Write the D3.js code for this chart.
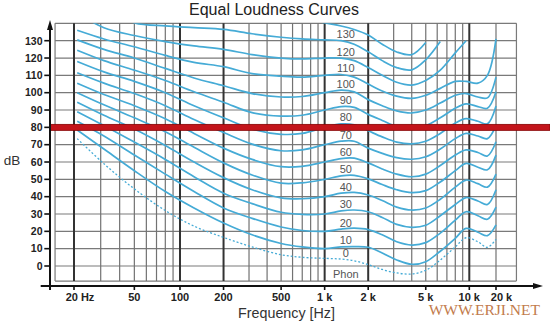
<!DOCTYPE html>
<html><head><meta charset="utf-8">
<script src="https://cdn.jsdelivr.net/npm/d3@7"></script>
<style>body{margin:0;background:#fff}svg{display:block}</style>
</head><body>
<svg id="chart" width="550" height="324"></svg>
<script>
// ---- data ----
const freqs = [21, 31.5, 50, 80, 125, 200, 315, 500, 700, 1000, 1300, 1600, 2000, 2500, 3150, 4000, 5000, 6300, 8000, 9500, 12500, 16000, 20000];
const threshold = [73.5, 59, 44.5, 32, 23, 16.5, 11, 6.5, 5, 4.4, 4, 3, 0.8, -2, -4, -4.6, -2.5, 3.5, 11, 16.3, 14, 10.8, 15.4];
const phon10  = [78.5, 67.5, 55, 43, 33.5, 24.8, 18, 13, 11, 10, 11, 11.2, 10.8, 7.5, 3.5, 1.0, 2.5, 8.5, 16, 21.7, 19.5, 17.5, 23.7];
const phon20  = [83.5, 75, 64, 53, 43, 33.5, 27.5, 22.5, 20.5, 20, 21.3, 21.8, 21, 18, 14, 12.1, 13.5, 19, 26.5, 31.3, 29, 27, 34];
const phon30  = [89, 81, 71.5, 61.5, 51.5, 42, 36, 31, 29.8, 30, 31.8, 32.3, 31.3, 28, 24, 22.3, 23.5, 29, 35.5, 39.5, 37.5, 35.5, 44];
const phon40  = [94.5, 87, 79, 69.5, 60, 51, 44, 39.3, 38.8, 40, 42, 42.5, 41, 37.8, 34, 32.3, 33.5, 38.5, 45.5, 49.6, 47.5, 45.5, 53];
const phon50  = [100, 93, 85.5, 77.5, 68.5, 59.5, 52.5, 47.8, 48, 50, 52, 52.3, 50.3, 47, 44, 42.3, 43.5, 48.5, 55, 59.2, 57, 55.5, 64];
const phon60  = [105.5, 99, 92.5, 85, 76.5, 68, 61.5, 57.3, 57.5, 60, 62, 62.2, 59.5, 56, 53, 51.5, 53, 58, 64, 67, 65.5, 63.5, 71.7];
const phon70  = [111.5, 105.5, 99.5, 92.5, 84.5, 77, 70.3, 66.5, 67, 70, 72, 72, 68, 65, 62.5, 61.6, 63, 67.5, 73.5, 76.5, 75, 73.5, 81];
const phon80  = [118, 112, 106.5, 100, 92.5, 85.5, 79, 76, 76.5, 80, 82, 81.5, 78, 74.5, 71.5, 70.5, 72, 76.5, 82.5, 85, 83.5, 82, 92.3];
const phon90  = [124.5, 118.5, 113, 107, 100.5, 94.5, 88.5, 86.5, 87, 90, 92, 91.5, 87.5, 84, 80.5, 79.5, 81, 85.5, 91, 93.5, 92, 91, 100.5];
const phon100 = [130.5, 125, 120, 114, 108.5, 104, 99.5, 97.5, 97.8, 100, 101.5, 100.5, 96, 92.5, 89.5, 88.3, 90, 94, 98.5, 99.5, 97.5, 97, 109];
const phon110 = [136, 131, 126.5, 121.5, 117.5, 115, 111, 109.5, 109, 110, 110.5, 109, 105, 101, 98, 96.7, 98.5, 102.5, 106.5, 106.5, 105.5, 110, 131];
const phon120 = [146, 137.5, 133, 129.5, 127, 125, 122, 120, 119.5, 120, 120, 118.5, 114.5, 110, 106, 104.4, 107, 113, 123, 130, null, null, null];
const phon130 = [null, 148, 140.3, 138.5, 137.5, 136.5, 134, 132, 131, 130.5, 130, 128, 123.6, 118.5, 114.5, 113.2, 119, 129.5, null, null, null, null, null];
const phon140 = [null, null, null, null, null, null, null, null, 143, 140.3, 138.5, 136.5, 133.3, 128, 123.5, 122, 129, null, null, null, null, null, null];

const curveSeries = [phon10, phon20, phon30, phon40, phon50, phon60, phon70, phon80, phon90, phon100, phon110, phon120, phon130, phon140];
const curveNames  = ["10", "20", "30", "40", "50", "60", "70", "80", "90", "100", "110", "120", "130", ""];
const thresholdName = "0";
const unitName = "Phon";
const labelFreq = 1400;

const yTicks = [0, 10, 20, 30, 40, 50, 60, 70, 80, 90, 100, 110, 120, 130];
const yGrid = [-8.7, 0, 10, 20, 30, 40, 50, 60, 70, 80, 90, 100, 110, 120, 130, 140];
const xTickFreqs  = [20, 50, 100, 200, 500, 1000, 2000, 5000, 10000, 20000];
const xTickLabels = ["20 Hz", "50", "100", "200", "500", "1 k", "2 k", "5 k", "10 k", "20 k"];
const gridMajor = [20, 100, 200, 1000, 2000, 10000];
const gridMinor = [30, 40, 50, 60, 70, 80, 90, 300, 400, 500, 600, 700, 800, 900, 3000, 4000, 5000, 6000, 7000, 8000, 9000, 20000];
const frameFreq = [15, 34000];
const frameDb = [-8.7, 140];
const markerLevel = 80;

// ---- scales ----
const x = d3.scaleLog().domain([20, 100, 10000, 20000]).range([74, 180, 469.3, 496]);
const y = d3.scaleLinear().domain([0, 130]).range([266, 40.7]);

const svg = d3.select("#chart");
const fL = x(frameFreq[0]), fR = x(frameFreq[1]), fT = y(frameDb[1]), fB = y(frameDb[0]);

svg.append("defs").append("clipPath").attr("id", "plot")
  .append("rect").attr("x", fL).attr("y", fT).attr("width", fR - fL).attr("height", fB - fT);

// grid
const grid = svg.append("g");
grid.selectAll(".h").data(yGrid).join("line")
  .attr("x1", fL).attr("x2", fR).attr("y1", d => y(d)).attr("y2", d => y(d))
  .attr("stroke", "#7a7a7a").attr("stroke-width", 1.2);
grid.selectAll(".vmin").data(gridMinor).join("line")
  .attr("x1", d => x(d)).attr("x2", d => x(d)).attr("y1", fT).attr("y2", fB)
  .attr("stroke", "#727272").attr("stroke-width", 1.2);
grid.selectAll(".vmaj").data(gridMajor).join("line")
  .attr("x1", d => x(d)).attr("x2", d => x(d)).attr("y1", fT).attr("y2", fB)
  .attr("stroke", "#333").attr("stroke-width", 2);
grid.append("line").attr("x1", fL).attr("x2", fL).attr("y1", fT).attr("y2", fB).attr("stroke", "#7a7a7a").attr("stroke-width", 1.2);
grid.append("line").attr("x1", fR).attr("x2", fR).attr("y1", fT).attr("y2", fB).attr("stroke", "#7a7a7a").attr("stroke-width", 1.2);

// curves
const line = d3.line()
  .defined(d => d[1] != null)
  .x(d => x(d[0])).y(d => y(d[1]))
  .curve(d3.curveCatmullRom.alpha(0.5));
const cg = svg.append("g").attr("clip-path", "url(#plot)");
cg.selectAll(".c").data(curveSeries).join("path")
  .attr("d", s => line(freqs.map((f, i) => [f, s[i]])))
  .attr("fill", "none").attr("stroke", "#45abd6").attr("stroke-width", 1.7);
cg.append("path")
  .attr("d", line(freqs.map((f, i) => [f, threshold[i]])))
  .attr("fill", "none").attr("stroke", "#45abd6").attr("stroke-width", 1.3)
  .attr("stroke-dasharray", "2,2");

// phon labels
const li = freqs.indexOf(1300);
const lab = svg.append("g").attr("font-family", "Liberation Sans, Arial, sans-serif")
  .attr("font-size", 11).attr("fill", "#555").attr("text-anchor", "middle");
curveSeries.forEach((s, k) => {
  if (!curveNames[k]) return;
  lab.append("text").attr("x", x(labelFreq)).attr("y", y(s[li]) - 2.5).text(curveNames[k]);
});
lab.append("text").attr("x", x(labelFreq)).attr("y", y(threshold[li]) - 2.5).text(thresholdName);
lab.append("text").attr("x", x(labelFreq)).attr("y", y(threshold[li]) + 19).text(unitName);

// red marker line
svg.append("rect").attr("x", 50).attr("y", y(markerLevel) - 3).attr("width", 500).attr("height", 6)
  .attr("fill", "#c3141b").attr("stroke", "#850000").attr("stroke-width", 0.8);

// axes
const ax = svg.append("g");
ax.append("line").attr("x1", 50).attr("x2", 50).attr("y1", 290).attr("y2", 26).attr("stroke", "#111").attr("stroke-width", 2);
ax.append("path").attr("d", "M50,20 L47,30 L53,30 Z").attr("fill", "#111");
ax.append("line").attr("x1", 40.7).attr("x2", 537).attr("y1", 286).attr("y2", 286).attr("stroke", "#111").attr("stroke-width", 2);
ax.append("path").attr("d", "M543,286 L533,283 L533,289 Z").attr("fill", "#111");

ax.selectAll(".yt").data(yTicks).join("line")
  .attr("x1", 44.3).attr("x2", 50).attr("y1", d => y(d)).attr("y2", d => y(d))
  .attr("stroke", "#111").attr("stroke-width", 1.6);
ax.selectAll(".yl").data(yTicks).join("text")
  .attr("x", 42.5).attr("y", d => y(d) + 3.8).attr("text-anchor", "end")
  .attr("font-family", "Liberation Sans, Arial, sans-serif").attr("font-weight", "bold")
  .attr("font-size", 10.5).attr("fill", "#222").text(d => d);

ax.selectAll(".xt").data(xTickFreqs).join("line")
  .attr("x1", d => x(d)).attr("x2", d => x(d)).attr("y1", 286).attr("y2", 290)
  .attr("stroke", "#111").attr("stroke-width", 1.6);
ax.selectAll(".xl").data(xTickFreqs).join("text")
  .attr("x", (d, i) => x(d) + (i === 0 ? 6 : (i === xTickFreqs.length - 1 ? 5.5 : 0)))
  .attr("y", 300.5).attr("text-anchor", "middle")
  .attr("font-family", "Liberation Sans, Arial, sans-serif").attr("font-weight", "bold")
  .attr("font-size", 11).attr("fill", "#222").text((d, i) => xTickLabels[i]);

// titles
svg.append("text").attr("x", 274).attr("y", 14.5).attr("text-anchor", "middle")
  .attr("font-family", "Liberation Sans, Arial, sans-serif").attr("font-size", 16).attr("fill", "#222")
  .text("Equal Loudness Curves");
svg.append("text").attr("x", 286.5).attr("y", 317.5).attr("text-anchor", "middle")
  .attr("font-family", "Liberation Sans, Arial, sans-serif").attr("font-size", 14.3).attr("fill", "#333")
  .text("Frequency [Hz]");
svg.append("text").attr("x", 12).attr("y", 165).attr("text-anchor", "middle")
  .attr("font-family", "Liberation Sans, Arial, sans-serif").attr("font-size", 13.5).attr("fill", "#333")
  .text("dB");

// watermark
svg.append("text").attr("x", 540).attr("y", 315).attr("text-anchor", "end")
  .attr("font-family", "Liberation Serif, Times New Roman, serif").attr("font-size", 15.5).attr("fill", "#c27b4c")
  .text("WWW.ERJI.NET");
</script>
</body></html>
